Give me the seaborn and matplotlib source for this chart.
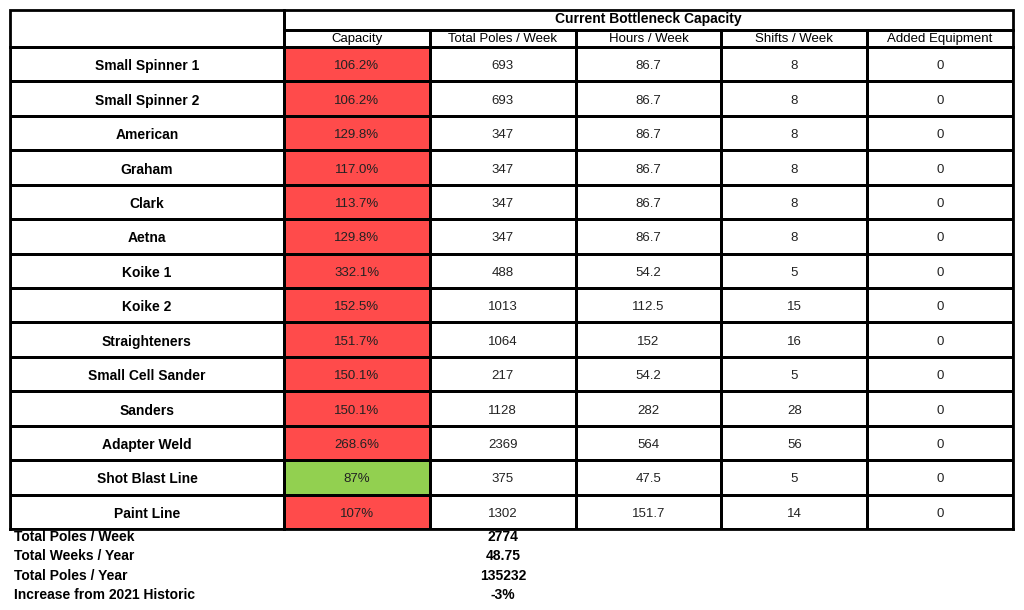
import matplotlib
matplotlib.use("Agg")
import matplotlib.pyplot as plt
import seaborn as sns
import numpy as np
from matplotlib.colors import ListedColormap
from matplotlib.patches import Rectangle

sns.set_theme(style="white")
plt.rcParams['font.family'] = ['Liberation Sans', 'DejaVu Sans']
plt.rcParams['text.color'] = 'black'

title = "Current Bottleneck Capacity"
columns = ["Capacity", "Total Poles / Week", "Hours / Week", "Shifts / Week", "Added Equipment"]
machines = ["Small Spinner 1", "Small Spinner 2", "American", "Graham", "Clark", "Aetna", "Koike 1",
            "Koike 2", "Straighteners", "Small Cell Sander", "Sanders", "Adapter Weld", "Shot Blast Line", "Paint Line"]
capacity = ["106.2%", "106.2%", "129.8%", "117.0%", "113.7%", "129.8%", "332.1%",
            "152.5%", "151.7%", "150.1%", "150.1%", "268.6%", "87%", "107%"]
poles_week = [693, 693, 347, 347, 347, 347, 488, 1013, 1064, 217, 1128, 2369, 375, 1302]
hours_week = ["86.7", "86.7", "86.7", "86.7", "86.7", "86.7", "54.2", "112.5", "152", "54.2", "282", "564", "47.5", "151.7"]
shifts_week = [8, 8, 8, 8, 8, 8, 5, 15, 16, 5, 28, 56, 5, 14]
added_equipment = [0] * 14
over_capacity = [1] * 12 + [0, 1]  # 1 = red, 0 = green
footer_labels = ["Total Poles / Week", "Total Weeks / Year", "Total Poles / Year", "Increase from 2021 Historic"]
footer_values = ["2774", "48.75", "135232", "-3%"]

W, H = 1024, 610
fig = plt.figure(figsize=(W / 100, H / 100), dpi=100)
bg = fig.add_axes([0, 0, 1, 1])
bg.set_xlim(0, W); bg.set_ylim(H, 0); bg.axis("off")

def fax(x0, y0, x1, y1):
    return fig.add_axes([x0 / W, 1 - y1 / H, (x1 - x0) / W, (y1 - y0) / H])

for (x0, y0, x1, y1) in [(10, 10, 284, 47), (284, 10, 1013, 30)]:
    bg.add_patch(Rectangle((x0, y0), x1 - x0, y1 - y0, fill=False, ec="black", lw=2))
bg.text((284 + 1013) / 2, 19.5, title, ha="center", va="center", fontsize=10, fontweight="bold")
cw = (1013 - 284) / 5
for i, c in enumerate(columns):
    x0 = 284 + i * cw
    bg.add_patch(Rectangle((x0, 30), cw, 17, fill=False, ec="black", lw=2))
    bg.text(x0 + cw / 2, 39, c, ha="center", va="center", fontsize=9.5)

n = len(machines)
vals = np.zeros((n, 5))
vals[:, 0] = [1 if o else 2 for o in over_capacity]
annot = np.array([[capacity[r], str(poles_week[r]), hours_week[r], str(shifts_week[r]), str(added_equipment[r])]
                  for r in range(n)], dtype=object)
cmap = ListedColormap(["white", "#FF4B4B", "#92D050"])
ax = fax(284, 47, 1013, 529)
sns.heatmap(vals, ax=ax, cmap=cmap, vmin=-0.5, vmax=2.5, cbar=False, annot=annot, fmt="",
            linewidths=2, linecolor="black", annot_kws={"fontsize": 9.5, "color": "#222222"})
ax.set_xticks([]); ax.set_yticks([])
for t in ax.texts:
    x, y = t.get_position(); t.set_position((x, y + 0.06))
for s in ax.spines.values():
    s.set_visible(True); s.set_linewidth(2); s.set_color("black")

ax2 = fax(10, 47, 284, 529)
sns.heatmap(np.zeros((n, 1)), ax=ax2, cmap=ListedColormap(["white"]), cbar=False,
            annot=np.array(machines, dtype=object).reshape(-1, 1), fmt="", linewidths=2, linecolor="black",
            annot_kws={"fontsize": 10, "fontweight": "bold", "color": "black"})
ax2.set_xticks([]); ax2.set_yticks([])
for t in ax2.texts:
    x, y = t.get_position(); t.set_position((x, y + 0.06))
for s in ax2.spines.values():
    s.set_visible(True); s.set_linewidth(2); s.set_color("black")

for i, (l, v) in enumerate(zip(footer_labels, footer_values)):
    y = 537 + i * 19.3
    bg.text(14, y, l, ha="left", va="center", fontsize=10, fontweight="bold", color="black")
    bg.text(503, y, v, ha="center", va="center", fontsize=10, fontweight="bold", color="black")

fig.savefig("out.png", dpi=100, facecolor="white")
